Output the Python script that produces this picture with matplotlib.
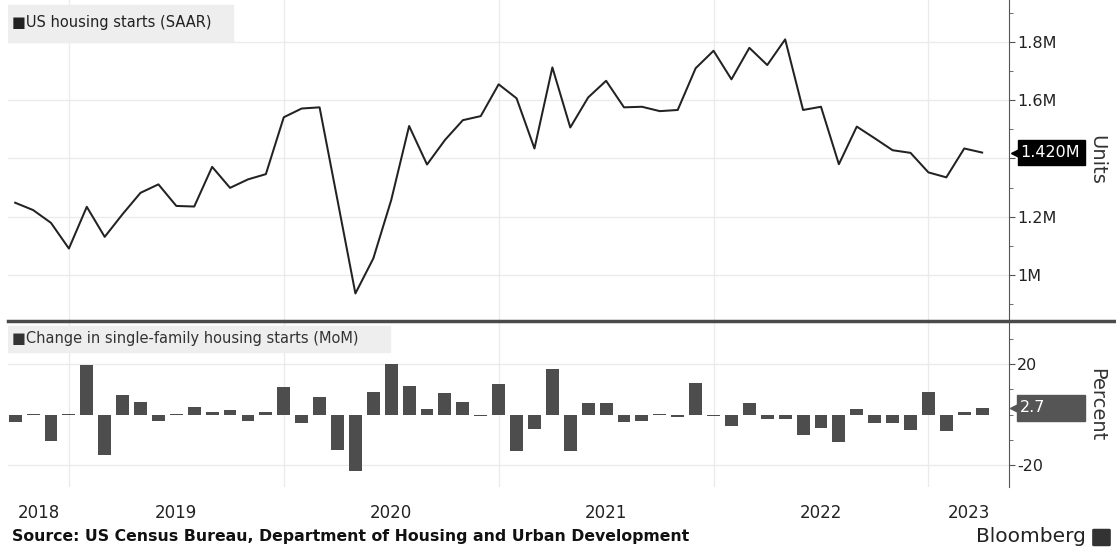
import numpy as np
import pandas as pd
import matplotlib
matplotlib.use('Agg')
import matplotlib.pyplot as plt
from matplotlib.patches import Rectangle, FancyBboxPatch
from matplotlib.lines import Line2D

# monthly data, Sep 2018 .. Mar 2023
months = pd.period_range('2018-09', '2023-03', freq='M')
starts = [1.248, 1.223, 1.179, 1.091, 1.234, 1.131, 1.209, 1.282, 1.311, 1.237,
          1.235, 1.371, 1.299, 1.328, 1.346, 1.541, 1.571, 1.575, 1.257, 0.937,
          1.057, 1.257, 1.511, 1.379, 1.463, 1.531, 1.545, 1.654, 1.606, 1.434,
          1.712, 1.506, 1.609, 1.666, 1.575, 1.577, 1.562, 1.566, 1.709, 1.769,
          1.671, 1.779, 1.720, 1.808, 1.566, 1.577, 1.380, 1.509, 1.469, 1.428,
          1.419, 1.352, 1.335, 1.434, 1.420]
sf_change = [-2.8, 0.4, -10.6, 0.4, 19.5, -15.9, 7.8, 5.0, -2.5, 0.4,
             3.1, 1.1, 2.0, -2.5, 1.0, 11.0, -3.5, 7.1, -14.2, -22.4,
             8.9, 20.1, 11.3, 2.4, 8.6, 5.1, -0.7, 12.3, -14.4, -5.7,
             18.0, -14.6, 4.7, 4.7, -3.1, -2.4, 0.4, -1.1, 12.7, -0.5,
             -4.5, 4.7, -1.6, -1.6, -8.2, -5.4, -10.9, 2.4, -3.3, -3.3,
             -6.0, 8.8, -6.4, 1.1, 2.7]
top_ticks = [1.0, 1.2, 1.4, 1.6, 1.8]
top_labels = ['1M', '1.2M', '', '1.6M', '1.8M']
bot_ticks = [-20, 20]
bot_labels = ['-20', '20']
years = ['2018', '2019', '2020', '2021', '2022', '2023']

W, H = 1116, 549
fig = plt.figure(figsize=(W / 100, H / 100), dpi=100)

def box(x0, y0, x1, y1):
    return [x0 / W, 1 - y1 / H, (x1 - x0) / W, (y1 - y0) / H]

ax1 = fig.add_axes(box(8, 0, 1009, 320))
ax2 = fig.add_axes(box(8, 322, 1009, 487))

x = np.arange(len(months))
xlim = (-0.4, 55.5)
grid_c = '#ebebeb'

ax1.plot(x, starts, color='#222222', lw=1.45, zorder=3)
ax2.bar(x, sf_change, width=0.72, color='#4d4d4d', zorder=3)

# year boundaries and labels
bounds = [i for i, m in enumerate(months) if m.month == 12]
edges = [xlim[0]] + bounds + [xlim[1]]
centers = [(a + b) / 2 for a, b in zip(edges[:-1], edges[1:])]

for ax in (ax1, ax2):
    ax.set_xlim(*xlim)
    ax.set_xticks(bounds)
    ax.set_xticklabels([])
    ax.grid(True, axis='both', color=grid_c, lw=1, zorder=0)
    ax.tick_params(axis='x', which='major', length=0)
    ax.yaxis.tick_right()
    ax.tick_params(axis='y', which='both', direction='out', color='#555555',
                   labelcolor='#222222', labelsize=11.5, pad=2)
    ax.tick_params(axis='y', which='major', length=4)
    ax.tick_params(axis='y', which='minor', length=3)
    for s in ('top', 'left', 'bottom'):
        ax.spines[s].set_visible(False)
    ax.spines['right'].set_color('#555555')

ax2.set_xticks(centers, minor=True)
ax2.set_xticklabels(years, minor=True)
ax2.tick_params(axis='x', which='minor', length=0, labelsize=12,
                labelcolor='#222222', pad=12)

ax1.set_ylim(0.846, 1.943)
ax1.set_yticks(top_ticks)
ax1.set_yticklabels(top_labels)
ax1.set_yticks([0.9, 1.1, 1.3, 1.5, 1.7, 1.9], minor=True)

ax2.set_ylim(-28.7, 36.7)
ax2.set_yticks(bot_ticks)
ax2.set_yticklabels(bot_labels)
ax2.set_yticks([-10, 0, 10, 30], minor=True)

# legends
ax1.add_patch(Rectangle((0, (320 - 42) / 320), 225 / 1001, 37 / 320,
                        transform=ax1.transAxes, color='#eeeeee', zorder=4))
ax1.text(4 / 1001, (320 - 22) / 320, '\u25a0US housing starts (SAAR)',
         transform=ax1.transAxes, va='center', ha='left', fontsize=10.5,
         color='#222222', zorder=5)
ax2.add_patch(Rectangle((0, (487 - 352) / 165), 382 / 1001, 26 / 165,
                        transform=ax2.transAxes, color='#eeeeee', zorder=4))
ax2.text(4 / 1001, (487 - 339) / 165,
         '\u25a0Change in single-family housing starts (MoM)',
         transform=ax2.transAxes, va='center', ha='left', fontsize=10.5,
         color='#333333', zorder=5)

# last value tags
t1 = ax1.get_yaxis_transform()
ax1.add_patch(Rectangle((1.0085, starts[-1] - 0.043), 0.067, 0.086, transform=t1,
                        clip_on=False, color='black', zorder=6))
ax1.plot([1.0055], [starts[-1]], marker='<', ms=6, color='black',
         transform=t1, clip_on=False, zorder=6)
ax1.text(1.011, starts[-1], f'{starts[-1]:.3f}M', transform=t1, color='white',
         va='center', ha='left', fontsize=11.5, zorder=7)

t2 = ax2.get_yaxis_transform()
ax2.add_patch(Rectangle((1.0075, sf_change[-1] - 5.2), 0.068, 10.4, transform=t2,
                        clip_on=False, color='#555555', zorder=6))
ax2.plot([1.005], [sf_change[-1]], marker='<', ms=6, color='#555555',
         transform=t2, clip_on=False, zorder=6)
ax2.text(1.011, sf_change[-1], f'{sf_change[-1]:.1f}', transform=t2, color='white',
         va='center', ha='left', fontsize=11.5, zorder=7)

fig.text(1097 / W, 1 - 160 / H, 'Units', rotation=270, fontsize=14,
         va='center', ha='center', color='#333333')
fig.text(1097 / W, 1 - 405 / H, 'Percent', rotation=270, fontsize=14,
         va='center', ha='center', color='#333333')

# separator between panels
fig.add_artist(Line2D([8 / W, 1], [1 - 321 / H] * 2, color='#4a4a4a', lw=2.5))

fig.text(12 / W, 1 - 537 / H,
         'Source: US Census Bureau, Department of Housing and Urban Development',
         fontsize=11.3, fontweight='bold', va='center', ha='left', color='#111111')
fig.text(1086 / W, 1 - 536 / H, 'Bloomberg', fontsize=14.5, va='center',
         ha='right', color='#222222')
fig.add_artist(FancyBboxPatch((1094 / W, 1 - 545 / H), 15 / W, 15 / H,
                              boxstyle='round,pad=0.001', transform=fig.transFigure,
                              color='#333333'))

fig.savefig('out.png', dpi=100, facecolor='white')
